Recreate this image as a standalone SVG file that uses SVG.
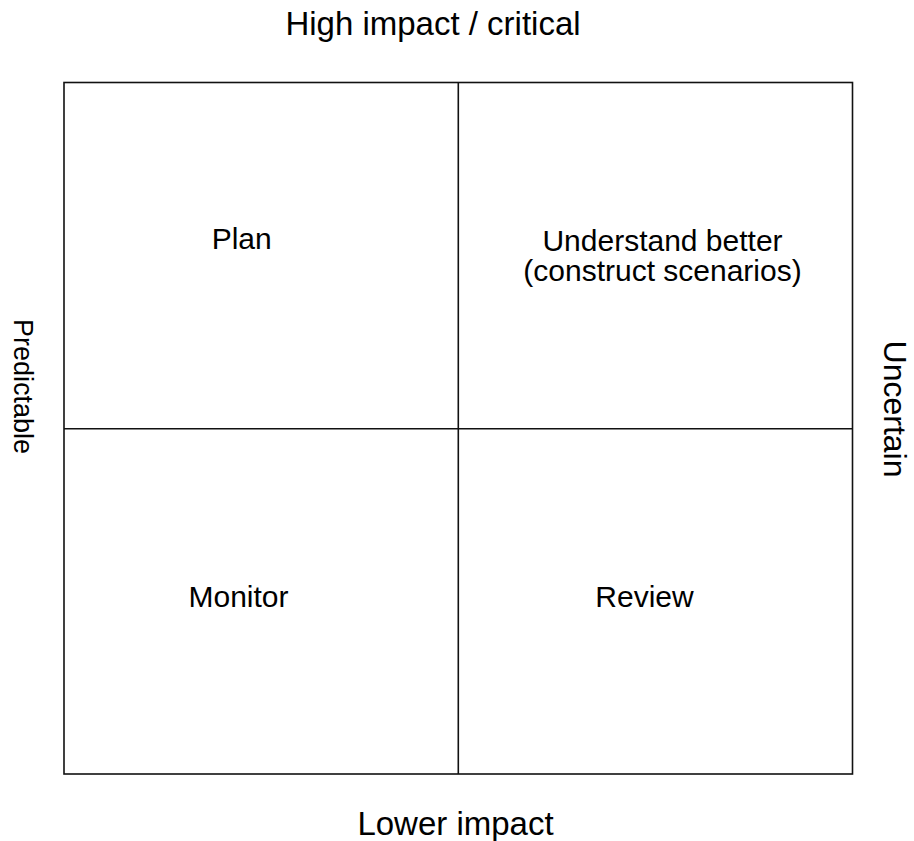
<svg xmlns="http://www.w3.org/2000/svg" width="914" height="841" viewBox="0 0 914 841">
  <style>
    .grid { fill: none; stroke: #111; stroke-width: 1.6; }
    .axis { font-family: "Liberation Sans", Arial, sans-serif; font-size: 33px; fill: #000; text-anchor: middle; }
    .quad { font-family: "Liberation Sans", Arial, sans-serif; font-size: 30px; fill: #000; text-anchor: middle; }
  </style>
  <rect width="914" height="841" fill="#ffffff"/>

  <!-- matrix frame and dividers -->
  <g id="connectors">
    <rect class="grid" x="64" y="82.5" width="788.5" height="691.5"/>
    <line class="grid" x1="458.3" y1="82.5" x2="458.3" y2="774"/>
    <line class="grid" x1="64" y1="428.7" x2="852.5" y2="428.7"/>
  </g>

  <!-- axis labels -->
  <g id="axis-top"><text class="axis" x="433" y="35">High impact / critical</text></g>
  <g id="axis-bottom"><text class="axis" x="455.5" y="835">Lower impact</text></g>
  <g id="axis-left"><text class="axis" style="font-size:27px" transform="translate(13.5,386.5) rotate(90)">Predictable</text></g>
  <g id="axis-right"><text class="axis" style="font-size:32px" transform="translate(884,409) rotate(90)">Uncertain</text></g>

  <!-- quadrants -->
  <g id="q-plan"><text class="quad" x="241.7" y="249">Plan</text></g>
  <g id="q-understand">
    <text class="quad" x="662.5" y="251">Understand better</text>
    <text class="quad" x="662.5" y="281">(construct scenarios)</text>
  </g>
  <g id="q-monitor"><text class="quad" x="238.5" y="607">Monitor</text></g>
  <g id="q-review"><text class="quad" x="644.5" y="607">Review</text></g>
</svg>
